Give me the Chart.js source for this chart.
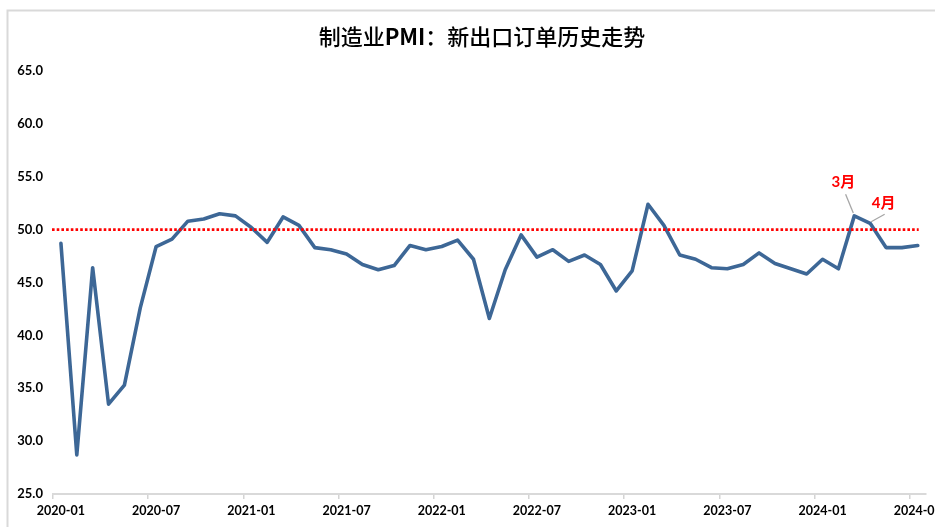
<!DOCTYPE html>
<html>
<head>
<meta charset="utf-8">
<script src="https://cdn.jsdelivr.net/npm/chart.js@4/dist/chart.umd.min.js"></script>
<style>
html,body{margin:0;padding:0;background:#fff;overflow:hidden;width:935px;height:527px;}
#wrap{width:960px;height:527px;position:relative;}
</style>
</head>
<body>
<div id="wrap"><canvas id="c" width="960" height="527"></canvas></div>
<script>
const titleParts = [['制造业', false], ['PMI', true], ['：新出口订单历史走势', false]];

const categories = [
  '2020-01','2020-02','2020-03','2020-04','2020-05','2020-06','2020-07','2020-08','2020-09','2020-10','2020-11','2020-12',
  '2021-01','2021-02','2021-03','2021-04','2021-05','2021-06','2021-07','2021-08','2021-09','2021-10','2021-11','2021-12',
  '2022-01','2022-02','2022-03','2022-04','2022-05','2022-06','2022-07','2022-08','2022-09','2022-10','2022-11','2022-12',
  '2023-01','2023-02','2023-03','2023-04','2023-05','2023-06','2023-07','2023-08','2023-09','2023-10','2023-11','2023-12',
  '2024-01','2024-02','2024-03','2024-04','2024-05','2024-06','2024-07'
];

const newExportOrders = [
  48.7, 28.7, 46.4, 33.5, 35.3, 42.6, 48.4, 49.1, 50.8, 51.0, 51.5, 51.3,
  50.2, 48.8, 51.2, 50.4, 48.3, 48.1, 47.7, 46.7, 46.2, 46.6, 48.5, 48.1,
  48.4, 49.0, 47.2, 41.6, 46.2, 49.5, 47.4, 48.1, 47.0, 47.6, 46.7, 44.2,
  46.1, 52.4, 50.4, 47.6, 47.2, 46.4, 46.3, 46.7, 47.8, 46.8, 46.3, 45.8,
  47.2, 46.3, 51.3, 50.6, 48.3, 48.3, 48.5
];

const thresholdValue = 50;
const yTicks = [25, 30, 35, 40, 45, 50, 55, 60, 65];
const labelEvery = 6;
const calloutMonths = ['2024-03', '2024-04'];
const calloutTexts = ['3月', '4月'];

const frameAndTitle = {
  id: 'frameAndTitle',
  beforeDraw(chart) {
    const ctx = chart.ctx;
    ctx.save();
    ctx.fillStyle = '#ffffff';
    ctx.fillRect(0, 0, chart.width, chart.height);
    ctx.strokeStyle = '#d9d9d9';
    ctx.lineWidth = 2;
    ctx.beginPath();
    ctx.moveTo(7.5, chart.height);
    ctx.lineTo(7.5, 10.5);
    ctx.lineTo(chart.width, 10.5);
    ctx.stroke();
    // title
    const size = 22;
    const fam = '"Noto Sans CJK SC", "Noto Sans", sans-serif';
    let total = 0;
    const widths = titleParts.map(([t, b]) => {
      ctx.font = (b ? 'bold ' : '500 ') + size + 'px ' + fam;
      const w = ctx.measureText(t).width;
      total += w;
      return w;
    });
    let x = 482 - total / 2;
    ctx.fillStyle = '#000000';
    ctx.textBaseline = 'middle';
    ctx.textAlign = 'left';
    titleParts.forEach(([t, b], i) => {
      ctx.font = (b ? 'bold ' : '500 ') + size + 'px ' + fam;
      ctx.fillText(t, x, 37);
      x += widths[i];
    });
    ctx.restore();
  }
};

const thresholdLine = {
  id: 'thresholdLine',
  afterDatasetsDraw(chart) {
    const ctx = chart.ctx;
    const y = chart.scales.y.getPixelForValue(thresholdValue);
    const a = chart.chartArea;
    ctx.save();
    ctx.strokeStyle = '#ff0000';
    ctx.lineWidth = 2.6;
    ctx.setLineDash([2.6, 2.1]);
    ctx.beginPath();
    ctx.moveTo(a.left - 1, y);
    ctx.lineTo(a.right - 7, y);
    ctx.stroke();
    ctx.restore();
  }
};

const callouts = {
  id: 'callouts',
  afterDatasetsDraw(chart) {
    const ctx = chart.ctx;
    const meta = chart.getDatasetMeta(0);
    const geo = [
      { l1: [-1, -3], l2: [-8.7, -21.6], t: [-11, -33.5] },
      { l1: [1, -1.5], l2: [14.5, -9], t: [13.5, -20.5] }
    ];
    ctx.save();
    calloutMonths.forEach((m, k) => {
      const idx = categories.indexOf(m);
      const p = meta.data[idx];
      const g = geo[k];
      ctx.strokeStyle = '#a6a6a6';
      ctx.lineWidth = 1.3;
      ctx.beginPath();
      ctx.moveTo(p.x + g.l1[0], p.y + g.l1[1]);
      ctx.lineTo(p.x + g.l2[0], p.y + g.l2[1]);
      ctx.stroke();
      ctx.fillStyle = '#ff0000';
      ctx.font = 'bold 15px Lato, "Noto Sans CJK SC", sans-serif';
      ctx.textAlign = 'center';
      ctx.textBaseline = 'middle';
      ctx.fillText(calloutTexts[k], p.x + g.t[0], p.y + g.t[1]);
    });
    ctx.restore();
  }
};

new Chart(document.getElementById('c'), {
  type: 'line',
  data: {
    labels: categories,
    datasets: [{
      data: newExportOrders,
      borderColor: '#3d6796',
      borderWidth: 3.6,
      pointRadius: 0,
      tension: 0,
      borderJoinStyle: 'round',
      borderCapStyle: 'round',
      fill: false
    }]
  },
  options: {
    responsive: false,
    animation: false,
    layout: { padding: { left: 8, right: 34.3, top: 71, bottom: 0 } },
    plugins: { legend: { display: false }, title: { display: false }, tooltip: { enabled: false } },
    scales: {
      x: {
        type: 'category',
        offset: true,
        afterFit(s) { s.height = 33; },
        grid: {
          offset: true,
          drawOnChartArea: false,
          drawTicks: true,
          tickLength: 5,
          lineWidth: 1.5,
          color: (c) => (c.index !== undefined && c.index % labelEvery === 0) ? '#d4d4d4' : 'rgba(0,0,0,0)'
        },
        border: { display: true, color: '#d9d9d9', width: 2 },
        ticks: {
          autoSkip: false,
          maxRotation: 0,
          minRotation: 0,
          padding: 4,
          color: '#000000',
          font: { family: 'Lato, "Liberation Sans", sans-serif', size: 12.5, weight: 'bold' },
          callback: (v, i) => (i % labelEvery === 0 ? categories[i] : '')
        }
      },
      y: {
        min: yTicks[0],
        max: yTicks[yTicks.length - 1],
        afterFit(s) { s.width = 45; },
        afterBuildTicks(s) { s.ticks = yTicks.map(v => ({ value: v })); },
        grid: { display: false, drawTicks: false },
        border: { display: false },
        ticks: {
          padding: 10,
          color: '#000000',
          font: { family: 'Lato, "Liberation Sans", sans-serif', size: 13, weight: 'bold' },
          callback: (v) => Number(v).toFixed(1)
        }
      }
    }
  },
  plugins: [frameAndTitle, thresholdLine, callouts]
});
</script>
</body>
</html>
